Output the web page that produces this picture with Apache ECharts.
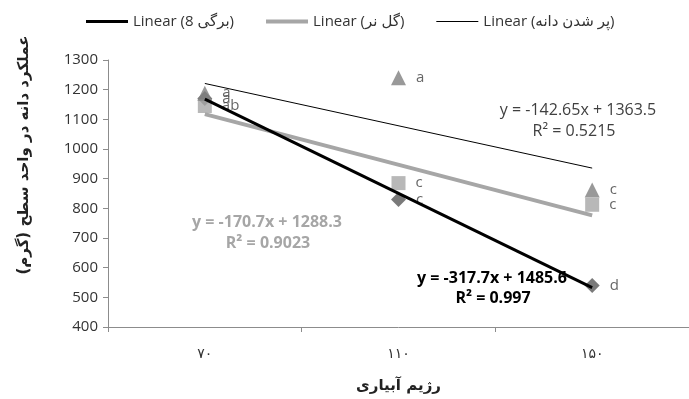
<!DOCTYPE html>
<html>
<head>
<meta charset="utf-8">
<script src="https://cdn.jsdelivr.net/npm/echarts@6/dist/echarts.min.js"></script>
<style>
  html, body { margin: 0; padding: 0; background: #fff; }
  #chart { width: 689px; height: 399px; }
</style>
</head>
<body>
<div id="chart"></div>
<script>
// رژیم آبیاری
const categories = ['۷۰', '۱۱۰', '۱۵۰']

// measured points
const leafValues = [1170, 830, 540]        // برگی 8
const maleFlowerValues = [1145, 885, 812]  // گل نر
const grainFillValues = [1188, 1240, 862]  // پر شدن دانه

// significance letters
const leafLetters = ['a', 'c', 'd']
const maleFlowerLetters = ['ab', 'c', 'c']
const grainFillLetters = ['a', 'a', 'c']

// trend lines (ends at 70 and 150)
const leafTrend = [1168, null, 532.5]
const maleFlowerTrend = [1117.6, null, 776.2]
const grainFillTrend = [1220.9, null, 935.6]

const yMin = 400
const yMax = 1300
const yStep = 100

const latin = '"Open Sans", "DejaVu Sans", sans-serif'
const persian = '"DejaVu Sans", sans-serif'

function letterLabel(letters) {
  return {
    show: true,
    position: 'right',
    distance: 10,
    color: '#404040',
    fontSize: 15,
    fontFamily: latin,
    formatter: function (p) { return letters[p.dataIndex] }
  }
}

const chart = echarts.init(document.getElementById('chart'))

chart.setOption({
  animation: false,
  backgroundColor: '#fff',
  legend: {
    left: 81,
    top: 9,
    itemWidth: 42,
    itemHeight: 14,
    itemGap: 32,
    symbolKeepAspect: true,
    data: [
      { name: 'Linear (برگی 8)', icon: 'path://M0,0L42,0L42,3L0,3Z', itemStyle: { color: '#000' } },
      { name: 'Linear (گل نر)', icon: 'path://M0,0L42,0L42,4L0,4Z', itemStyle: { color: '#a6a6a6' } },
      { name: 'Linear (پر شدن دانه)', icon: 'path://M0,0L42,0L42,1L0,1Z', itemStyle: { color: '#000' } }
    ],
    textStyle: { color: '#333', fontSize: 15, fontFamily: latin }
  },
  grid: { left: 108, right: 0, top: 60, bottom: 72 },
  xAxis: {
    type: 'category',
    data: categories,
    axisLine: { lineStyle: { color: '#8c8c8c' } },
    axisTick: { show: true, length: 5, lineStyle: { color: '#8c8c8c' } },
    axisLabel: { color: '#333', fontSize: 14, fontFamily: persian, margin: 20 },
    name: 'رژیم آبیاری',
    nameLocation: 'middle',
    nameGap: 52,
    nameTextStyle: { color: '#222', fontSize: 15, fontWeight: 'bold', fontFamily: persian }
  },
  yAxis: {
    type: 'value',
    min: yMin,
    max: yMax,
    interval: yStep,
    splitLine: { show: false },
    axisLine: { show: true, lineStyle: { color: '#8c8c8c' } },
    axisTick: { show: true, length: 5, lineStyle: { color: '#8c8c8c' } },
    axisLabel: {
      color: '#333', fontSize: 15, fontFamily: latin, margin: 10,
      formatter: function (v) { return String(v) }
    }
  },
  series: [
    {
      name: 'برگی 8', type: 'scatter', symbol: 'diamond', symbolSize: 15,
      itemStyle: { color: '#595959' }, data: leafValues, label: letterLabel(leafLetters), z: 2
    },
    {
      name: 'گل نر', type: 'scatter', symbol: 'rect', symbolSize: 14,
      itemStyle: { color: '#a6a6a6' }, data: maleFlowerValues, label: letterLabel(maleFlowerLetters), z: 2
    },
    {
      name: 'پر شدن دانه', type: 'scatter', symbol: 'triangle', symbolSize: 15,
      itemStyle: { color: '#808080' }, data: grainFillValues, label: letterLabel(grainFillLetters), z: 3
    },
    {
      name: 'Linear (برگی 8)', type: 'line', data: leafTrend, connectNulls: true,
      showSymbol: false, symbol: 'none', lineStyle: { color: '#000', width: 3 },
      itemStyle: { color: '#000' }, z: 5
    },
    {
      name: 'Linear (گل نر)', type: 'line', data: maleFlowerTrend, connectNulls: true,
      showSymbol: false, symbol: 'none', lineStyle: { color: '#a6a6a6', width: 4 },
      itemStyle: { color: '#a6a6a6' }, z: 4
    },
    {
      name: 'Linear (پر شدن دانه)', type: 'line', data: grainFillTrend, connectNulls: true,
      showSymbol: false, symbol: 'none', lineStyle: { color: '#000', width: 1 },
      itemStyle: { color: '#000' }, z: 4
    }
  ],
  graphic: [
    {
      type: 'text', rotation: Math.PI / 2, x: 24, y: 155, z: 10,
      style: {
        text: 'عملکرد دانه در واحد سطح (گرم)', fill: '#222',
        font: 'bold 15px "DejaVu Sans", sans-serif', align: 'center', verticalAlign: 'middle'
      }
    },
    {
      type: 'text', x: 492, y: 278, z: 10,
      style: { text: 'y = -317.7x + 1485.6', fill: '#000', font: 'bold 16px "Open Sans"', align: 'center', verticalAlign: 'middle' }
    },
    {
      type: 'text', x: 493, y: 298, z: 10,
      style: { text: 'R² = 0.997', fill: '#000', font: 'bold 16px "Open Sans"', align: 'center', verticalAlign: 'middle' }
    },
    {
      type: 'text', x: 267, y: 222, z: 10,
      style: { text: 'y = -170.7x + 1288.3', fill: '#a6a6a6', font: 'bold 16px "Open Sans"', align: 'center', verticalAlign: 'middle' }
    },
    {
      type: 'text', x: 268, y: 243, z: 10,
      style: { text: 'R² = 0.9023', fill: '#a6a6a6', font: 'bold 16px "Open Sans"', align: 'center', verticalAlign: 'middle' }
    },
    {
      type: 'text', x: 578, y: 110, z: 10,
      style: { text: 'y = -142.65x + 1363.5', fill: '#404040', font: '16px "Open Sans"', align: 'center', verticalAlign: 'middle' }
    },
    {
      type: 'text', x: 574, y: 131, z: 10,
      style: { text: 'R² = 0.5215', fill: '#404040', font: '16px "Open Sans"', align: 'center', verticalAlign: 'middle' }
    }
  ]
})
</script>
</body>
</html>
